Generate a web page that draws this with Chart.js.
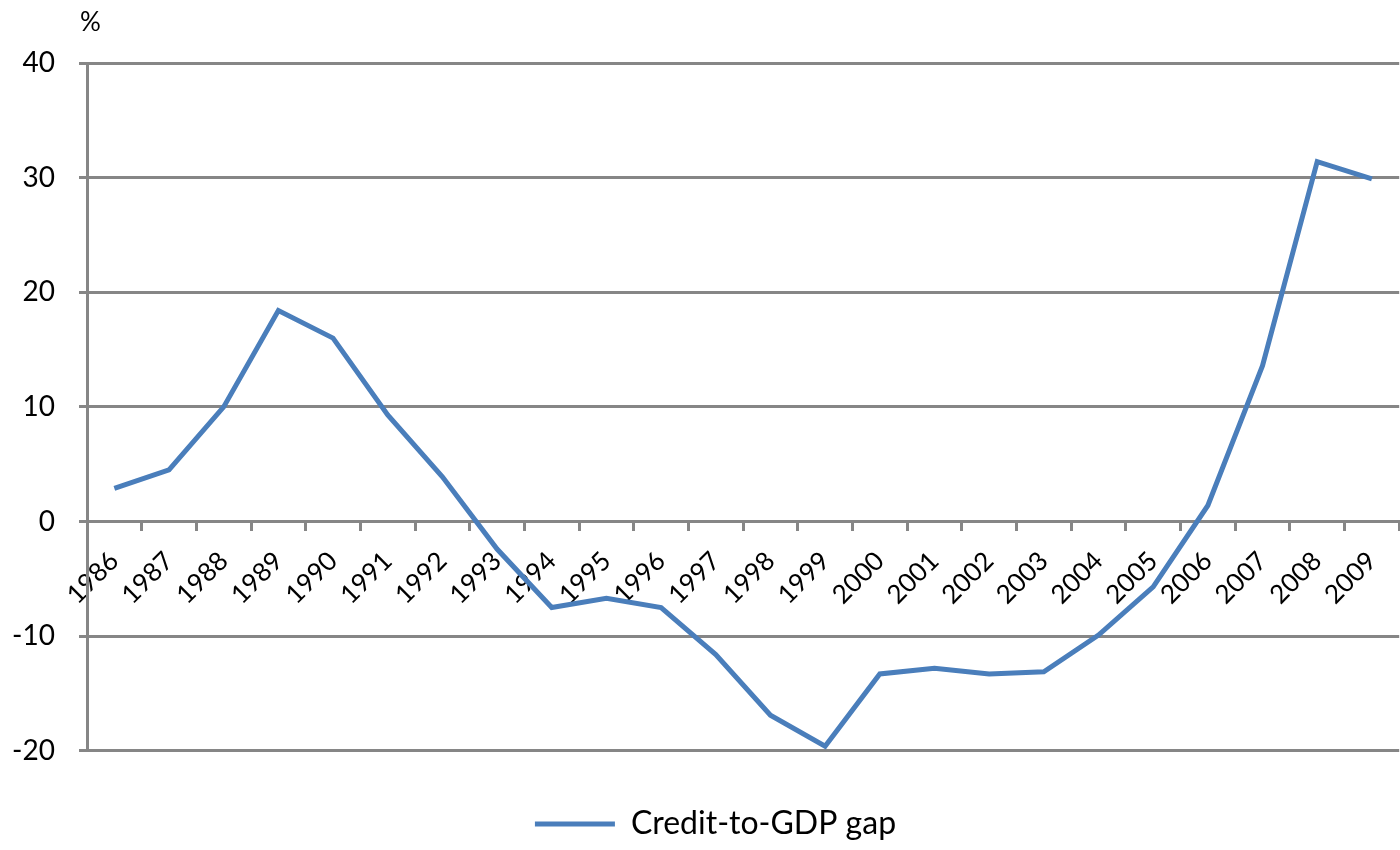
<!DOCTYPE html>
<html>
<head>
<meta charset="utf-8">
<script src="https://cdn.jsdelivr.net/npm/chart.js@4"></script>
<style>
    html, body { margin: 0; padding: 0; background: #ffffff; overflow: hidden; }
    #wrap { width: 1410px; height: 850px; }
</style>
</head>
<body>
<div id="wrap"><canvas id="gapChart"></canvas></div>
<script>
// Credit-to-GDP gap, annual, in percentage points
const years = ["1986", "1987", "1988", "1989", "1990", "1991", "1992", "1993",
    "1994", "1995", "1996", "1997", "1998", "1999", "2000", "2001",
    "2002", "2003", "2004", "2005", "2006", "2007", "2008", "2009"];
const gapValues = [2.9, 4.5, 10.0, 18.4, 16.0, 9.3, 3.9, -2.4,
    -7.5, -6.7, -7.5, -11.6, -16.9, -19.6, -13.3, -12.8,
    -13.3, -13.1, -9.9, -5.7, 1.4, 13.6, 31.4, 29.9];
const yTicks = [-20, -10, 0, 10, 20, 30, 40];
const unitLabel = "%";
const seriesName = "Credit-to-GDP gap";

const lineBlue = "#4a7ebb";
const axisGrey = "#868686";
const fontFamily = "Lato, 'Open Sans', sans-serif";

// unit label above the top-left corner of the value axis
const unitPlugin = {
    id: "unitLabel",
    afterDraw(chart) {
        const ctx = chart.ctx;
        ctx.save();
        ctx.font = "26px " + fontFamily;
        ctx.fillStyle = "#000";
        ctx.textAlign = "left";
        ctx.textBaseline = "alphabetic";
        ctx.fillText(unitLabel, chart.chartArea.left - 7, 31);
        ctx.restore();
    }
};

// nudge the legend a bit right so it sits under the middle of the plot
const legendShift = {
    id: "legendShift",
    afterLayout(chart) {
        if (!chart.legend) return;
        chart.legend.left += 12;
        chart.legend.right += 12;
    }
};

new Chart(document.getElementById("gapChart"), {
    type: "line",
    data: {
        labels: years,
        datasets: [{
            label: seriesName,
            data: gapValues,
            borderColor: lineBlue,
            backgroundColor: lineBlue,
            borderWidth: 5,
            pointRadius: 0,
            tension: 0,
            fill: false
        }]
    },
    options: {
        responsive: true,
        maintainAspectRatio: false,
        animation: false,
        layout: { padding: { top: 63, right: 3, left: 0, bottom: 0 } },
        plugins: {
            tooltip: { enabled: false },
            legend: {
                position: "bottom",
                // empty title only used as a spacer under the x labels
                title: { display: true, text: "", font: { size: 1 }, padding: { top: 50, bottom: 0 } },
                labels: {
                    color: "#000",
                    font: { family: fontFamily, size: 32 },
                    boxWidth: 80,
                    boxHeight: 5,
                    padding: 6,
                    generateLabels(chart) {
                        return chart.data.datasets.map((ds, i) => ({
                            text: ds.label,
                            fillStyle: ds.borderColor,
                            strokeStyle: ds.borderColor,
                            fontColor: "#000",
                            lineWidth: 0,
                            datasetIndex: i
                        }));
                    }
                }
            }
        },
        scales: {
            x: {
                position: { y: 0 },
                offset: true,
                grid: {
                    offset: true,
                    drawOnChartArea: false,
                    drawTicks: true,
                    tickLength: 8,
                    tickWidth: 3,
                    tickColor: axisGrey
                },
                border: { display: true, color: axisGrey, width: 3 },
                ticks: {
                    color: "#000",
                    font: { family: fontFamily, size: 26 },
                    minRotation: 45,
                    maxRotation: 45,
                    autoSkip: false,
                    padding: 16
                }
            },
            y: {
                min: yTicks[0],
                max: yTicks[yTicks.length - 1],
                afterBuildTicks(scale) {
                    scale.ticks = yTicks.map(v => ({ value: v }));
                },
                afterFit(scale) { scale.width = 87; },
                grid: {
                    color: axisGrey,
                    lineWidth: 3,
                    tickLength: 8,
                    tickColor: axisGrey
                },
                border: { display: true, color: axisGrey, width: 3 },
                ticks: {
                    color: "#000",
                    font: { family: fontFamily, size: 28 },
                    padding: 24
                }
            }
        }
    },
    plugins: [unitPlugin, legendShift]
});
</script>
</body>
</html>
